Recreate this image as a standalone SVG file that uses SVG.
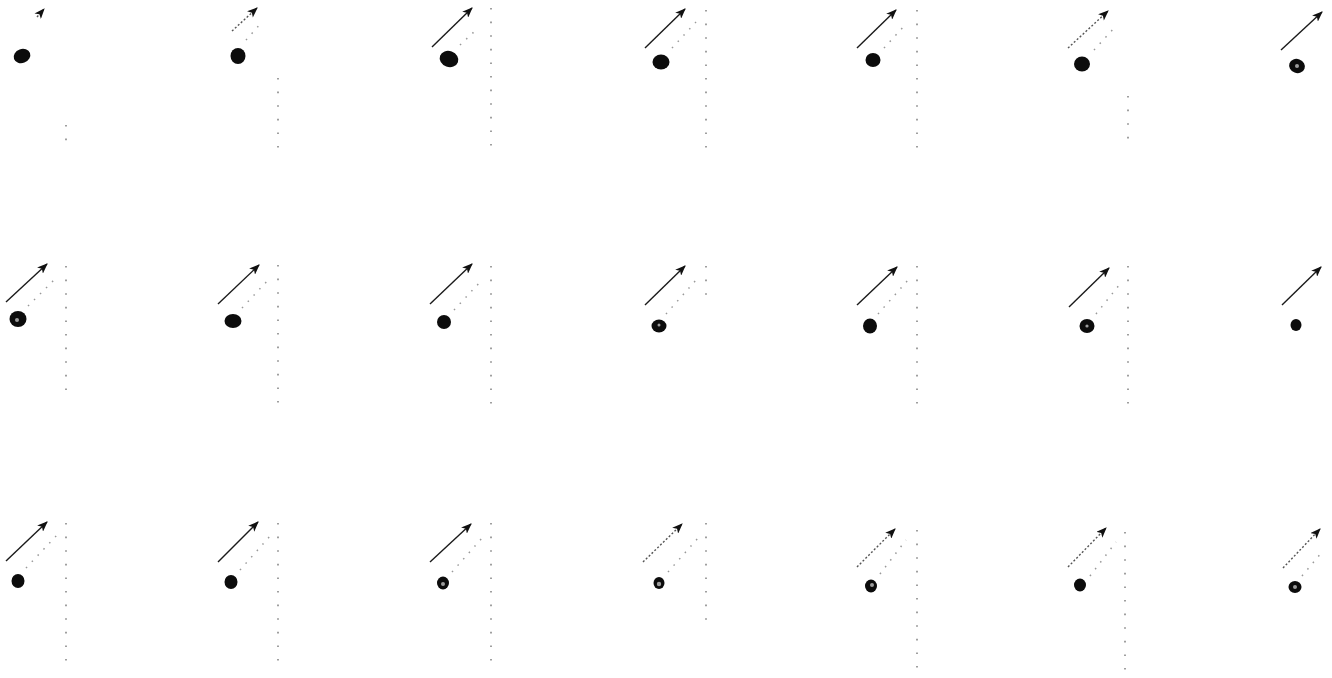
<svg xmlns="http://www.w3.org/2000/svg" width="1332" height="678" viewBox="0 0 1332 678">
<style>
.blob{fill:#0c0c0c}
.spot{fill:#fff;opacity:.6}
.arr{stroke:#1a1a1a;stroke-width:1.4;fill:none;marker-end:url(#ah)}
.arr.faint{stroke:#555;stroke-dasharray:2 2}
.col{stroke:#888;stroke-width:1.6;stroke-dasharray:1.6 12;fill:none}
.trail{stroke:#999;stroke-width:1.5;stroke-dasharray:1.5 7;fill:none}
</style>
<defs>
<marker id="ah" viewBox="0 0 10 8" refX="9" refY="4" markerWidth="11" markerHeight="8.5" orient="auto" markerUnits="userSpaceOnUse">
<path d="M0,0 L10,4 L0,8 L2.5,4 Z" fill="#111"/>
</marker>
</defs>
<rect width="1332" height="678" fill="#fff"/>
<g id="connectors">
<line class="arr faint" x1="37" y1="17" x2="44" y2="9"/>
<line class="arr faint" x1="232" y1="31" x2="257" y2="8"/>
<line class="arr" x1="432" y1="47" x2="472" y2="8"/>
<line class="arr" x1="645" y1="48" x2="685" y2="9"/>
<line class="arr" x1="857" y1="48" x2="896" y2="10"/>
<line class="arr faint" x1="1068" y1="48" x2="1108" y2="11"/>
<line class="arr" x1="1281" y1="50" x2="1322" y2="12"/>
<line class="arr" x1="6" y1="302" x2="47" y2="264"/>
<line class="arr" x1="218" y1="304" x2="259" y2="265"/>
<line class="arr" x1="430" y1="304" x2="472" y2="264"/>
<line class="arr" x1="645" y1="305" x2="685" y2="266"/>
<line class="arr" x1="857" y1="305" x2="897" y2="267"/>
<line class="arr" x1="1069" y1="307" x2="1109" y2="268"/>
<line class="arr" x1="1282" y1="305" x2="1321" y2="267"/>
<line class="arr" x1="6" y1="561" x2="47" y2="522"/>
<line class="arr" x1="218" y1="562" x2="258" y2="522"/>
<line class="arr" x1="430" y1="562" x2="471" y2="524"/>
<line class="arr faint" x1="643" y1="562" x2="682" y2="524"/>
<line class="arr faint" x1="857" y1="567" x2="895" y2="529"/>
<line class="arr faint" x1="1068" y1="567" x2="1106" y2="528"/>
<line class="arr faint" x1="1283" y1="568" x2="1320" y2="529"/>
</g>
<g id="dots">
<line class="col" x1="66" y1="125" x2="66" y2="152"/>
<line class="col" x1="278" y1="78" x2="278" y2="150"/>
<line class="col" x1="491" y1="8" x2="491" y2="155"/>
<line class="col" x1="706" y1="10" x2="706" y2="152"/>
<line class="col" x1="917" y1="10" x2="917" y2="156"/>
<line class="col" x1="1128" y1="96" x2="1128" y2="150"/>
<line class="col" x1="66" y1="266" x2="66" y2="396"/>
<line class="col" x1="278" y1="265" x2="278" y2="410"/>
<line class="col" x1="491" y1="266" x2="491" y2="412"/>
<line class="col" x1="706" y1="266" x2="706" y2="302"/>
<line class="col" x1="917" y1="266" x2="917" y2="412"/>
<line class="col" x1="1128" y1="266" x2="1128" y2="412"/>
<line class="col" x1="66" y1="523" x2="66" y2="665"/>
<line class="col" x1="278" y1="523" x2="278" y2="670"/>
<line class="col" x1="491" y1="523" x2="491" y2="665"/>
<line class="col" x1="706" y1="523" x2="706" y2="630"/>
<line class="col" x1="917" y1="530" x2="917" y2="676"/>
<line class="col" x1="1125" y1="532" x2="1125" y2="674"/>
<line class="trail" x1="246" y1="40" x2="262" y2="22"/>
<line class="trail" x1="460" y1="45" x2="476" y2="30"/>
<line class="trail" x1="672" y1="48" x2="696" y2="22"/>
<line class="trail" x1="884" y1="48" x2="906" y2="24"/>
<line class="trail" x1="1094" y1="50" x2="1116" y2="26"/>
<line class="trail" x1="28" y1="306" x2="58" y2="276"/>
<line class="trail" x1="242" y1="308" x2="270" y2="278"/>
<line class="trail" x1="454" y1="310" x2="482" y2="280"/>
<line class="trail" x1="666" y1="314" x2="696" y2="280"/>
<line class="trail" x1="878" y1="314" x2="908" y2="280"/>
<line class="trail" x1="1096" y1="314" x2="1120" y2="284"/>
<line class="trail" x1="26" y1="568" x2="58" y2="534"/>
<line class="trail" x1="240" y1="570" x2="270" y2="536"/>
<line class="trail" x1="452" y1="572" x2="482" y2="538"/>
<line class="trail" x1="668" y1="572" x2="698" y2="538"/>
<line class="trail" x1="880" y1="574" x2="906" y2="540"/>
<line class="trail" x1="1090" y1="576" x2="1116" y2="542"/>
<line class="trail" x1="1302" y1="576" x2="1322" y2="552"/>
</g>
<g id="blob-r1c1"><ellipse class="blob" cx="22" cy="56" rx="8.5" ry="7" transform="rotate(-20 22 56)"/></g>
<g id="blob-r1c2"><ellipse class="blob" cx="238" cy="56" rx="7.5" ry="8"/></g>
<g id="blob-r1c3"><ellipse class="blob" cx="449" cy="59" rx="9.5" ry="8" transform="rotate(20 449 59)"/></g>
<g id="blob-r1c4"><ellipse class="blob" cx="661" cy="62" rx="8.5" ry="7.5"/></g>
<g id="blob-r1c5"><ellipse class="blob" cx="873" cy="60" rx="7.5" ry="7"/></g>
<g id="blob-r1c6"><ellipse class="blob" cx="1082" cy="64" rx="8" ry="7.5"/></g>
<g id="blob-r1c7"><ellipse class="blob" cx="1297" cy="66" rx="8" ry="7" transform="rotate(20 1297 66)"/><circle class="spot" cx="1297" cy="66" r="2"/></g>
<g id="blob-r2c1"><ellipse class="blob" cx="18" cy="319" rx="8.5" ry="8"/><circle class="spot" cx="17" cy="320" r="2"/></g>
<g id="blob-r2c2"><ellipse class="blob" cx="233" cy="321" rx="8.5" ry="7"/></g>
<g id="blob-r2c3"><ellipse class="blob" cx="444" cy="322" rx="7" ry="7"/></g>
<g id="blob-r2c4"><ellipse class="blob" cx="659" cy="326" rx="7.5" ry="6.5"/><circle class="spot" cx="659" cy="325" r="1.5"/></g>
<g id="blob-r2c5"><ellipse class="blob" cx="870" cy="326" rx="7" ry="7.5"/></g>
<g id="blob-r2c6"><ellipse class="blob" cx="1087" cy="326" rx="7.5" ry="7"/><circle class="spot" cx="1087" cy="326" r="1.6"/></g>
<g id="blob-r2c7"><ellipse class="blob" cx="1296" cy="325" rx="5.5" ry="6"/></g>
<g id="blob-r3c1"><ellipse class="blob" cx="18" cy="581" rx="6.5" ry="7"/></g>
<g id="blob-r3c2"><ellipse class="blob" cx="231" cy="582" rx="6.5" ry="7"/></g>
<g id="blob-r3c3"><ellipse class="blob" cx="443" cy="583" rx="6" ry="6.5"/><circle class="spot" cx="443" cy="584" r="2"/></g>
<g id="blob-r3c4"><ellipse class="blob" cx="659" cy="583" rx="5.5" ry="6"/><circle class="spot" cx="659" cy="584" r="2.2"/></g>
<g id="blob-r3c5"><ellipse class="blob" cx="871" cy="586" rx="6" ry="6.5"/><circle class="spot" cx="872" cy="585" r="2"/></g>
<g id="blob-r3c6"><ellipse class="blob" cx="1080" cy="585" rx="6" ry="6.5"/></g>
<g id="blob-r3c7"><ellipse class="blob" cx="1295" cy="587" rx="6.5" ry="6"/><circle class="spot" cx="1295" cy="587" r="2"/></g>
</svg>
